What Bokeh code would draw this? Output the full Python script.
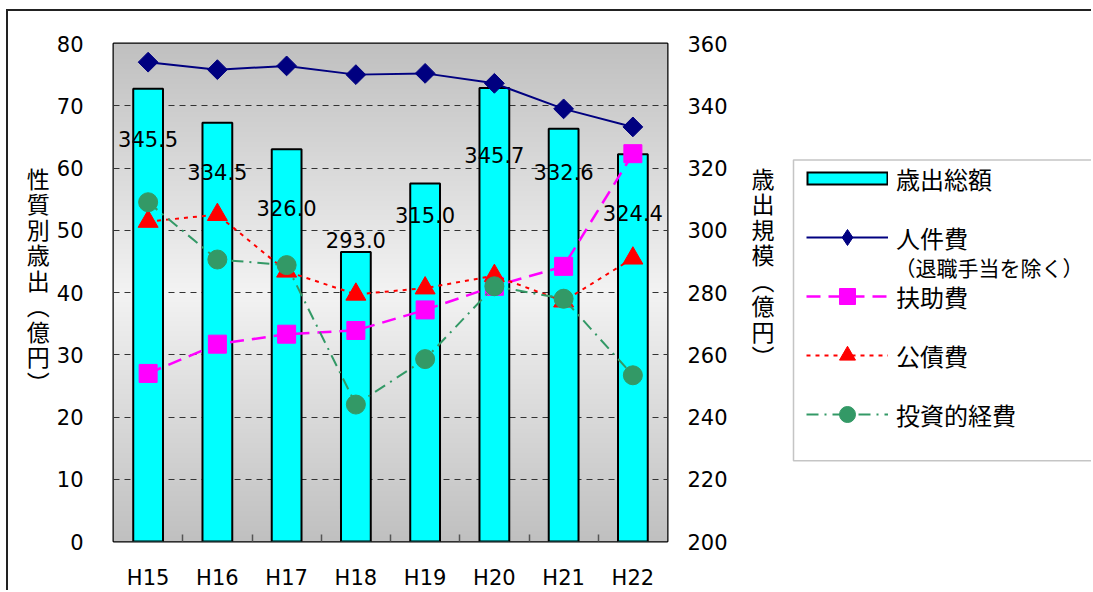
import numpy as np
from bokeh.plotting import figure
from bokeh.layouts import row
from bokeh.models import (Range1d, LinearAxis, FixedTicker, Legend, LegendItem, Label, BoxAnnotation)
from bokeh.embed import file_html
from bokeh.resources import INLINE
from bokeh.core.properties import value

FONT_JP = "Noto Sans CJK JP"
FONT_NUM = "DejaVu Sans"

# ---- data ----
years = ["H15", "H16", "H17", "H18", "H19", "H20", "H21", "H22"]
total_spending = [345.5, 334.5, 326.0, 293.0, 315.0, 345.7, 332.6, 324.4]   # 歳出総額 (right axis)
personnel = [77.0, 75.8, 76.4, 75.0, 75.2, 73.6, 69.5, 66.6]                # 人件費
assistance = [27.0, 31.7, 33.3, 33.9, 37.2, 41.0, 44.2, 62.3]               # 扶助費
debt_service = [51.4, 52.5, 43.4, 39.7, 40.7, 42.7, 38.6, 45.5]             # 公債費
investment = [54.5, 45.3, 44.4, 22.0, 29.3, 41.0, 39.0, 26.7]               # 投資的経費
left_ticks = [0, 10, 20, 30, 40, 50, 60, 70, 80]
right_ticks = [200, 220, 240, 260, 280, 300, 320, 340, 360]
legend_labels = ["歳出総額", "人件費", "扶助費", "公債費", "投資的経費"]
legend_note = "（退職手当を除く）"

# style: pixel shift of each bar's value label (as placed in the original)
label_shift = [50, 49, 59, -12, 31, 67, 43, 59]

# ---- styles ----
BAR = dict(fill_color="#00ffff", line_color="black", line_width=2)
S1_LINE = dict(line_color="#000080", line_width=2)
S1_MARK = dict(marker="square", angle=np.pi / 4, size=14, fill_color="#000080", line_color="#000080")
S1_LEG_MARK = dict(marker="diamond", size=20, fill_color="#000080", line_color="#000080")
S2_LINE = dict(line_color="#ff00ff", line_width=2.5, line_dash="14 8")
S2_MARK = dict(marker="square", size=18, fill_color="#ff00ff", line_color="#ff00ff")
S3_LINE = dict(line_color="#ff0000", line_width=2, line_dash="4 5")
S3_MARK = dict(marker="triangle", size=20, fill_color="#ff0000", line_color="#ff0000")
S4_LINE = dict(line_color="#339966", line_width=2, line_dash="12 6 2 6")
S4_MARK = dict(marker="circle", size=19, fill_color="#339966", line_color="#339966")
FRAME_BORDER = "2px solid #222222"

x = list(range(len(years)))

MAIN_W, H = 782, 581
p = figure(width=MAIN_W, height=H, output_backend="svg", toolbar_location=None,
           x_range=Range1d(-0.5, len(years) - 0.5),
           y_range=Range1d(left_ticks[0], left_ticks[-1]),
           min_border_left=105, min_border_right=123, min_border_top=32, min_border_bottom=49,
           background_fill_color="white", border_fill_color="white")
p.styles = {"border-top": FRAME_BORDER, "border-left": FRAME_BORDER,
            "margin-top": "9px", "margin-left": "6px"}
p.extra_y_ranges = {"r": Range1d(right_ticks[0], right_ticks[-1])}

# gradient plot background (grey - light - grey)
n = 400
t = np.linspace(0.0, 1.0, n)
g = (192 + (243 - 192) * (1 - np.abs(2 * t - 1))).astype(np.uint8)
img = np.empty((n, 2), dtype=np.uint32)
view = img.view(dtype=np.uint8).reshape((n, 2, 4))
for k in range(3):
    view[:, :, k] = g[:, None]
view[:, :, 3] = 255
xr, yr = p.x_range, p.y_range
p.image_rgba(image=[img], x=xr.start, y=yr.start, dw=xr.end - xr.start,
             dh=yr.end - yr.start, level="image")

p.outline_line_color = "black"
p.outline_line_width = 2
p.xgrid.visible = False
p.ygrid.grid_line_color = "#333333"
p.ygrid.grid_line_dash = "6 5"
p.ygrid.grid_line_width = 1

# bars + value labels
p.vbar(x=x, top=total_spending, bottom=right_ticks[0], width=0.43, y_range_name="r", **BAR)
p.text(x=x, y=total_spending, text=[f"{v:.1f}" for v in total_spending], y_range_name="r",
       y_offset=label_shift, text_align="center", text_baseline="middle",
       text_font=value(FONT_NUM), text_font_size="21px", text_color="black")

# lines
p.line(x, personnel, **S1_LINE)
p.scatter(x, personnel, **S1_MARK)
p.line(x, assistance, **S2_LINE)
p.scatter(x, assistance, **S2_MARK)
p.line(x, debt_service, **S3_LINE)
p.scatter(x, debt_service, **S3_MARK)
p.line(x, investment, **S4_LINE)
p.scatter(x, investment, **S4_MARK)

# axes
ax = p.xaxis[0]
ax.ticker = FixedTicker(ticks=x, minor_ticks=[i + 0.5 for i in x[:-1]])
ax.major_label_overrides = {i: s for i, s in zip(x, years)}
ax.axis_line_color = None
ax.major_tick_line_color = None
ax.major_tick_out = 0
ax.major_tick_in = 0
ax.minor_tick_in = 7
ax.minor_tick_out = 0
ax.minor_tick_line_color = "#555555"
ax.minor_tick_line_width = 1.5
ax.major_label_standoff = 24
ax.major_label_text_font = FONT_NUM
ax.major_label_text_font_size = "21px"
ax.major_label_text_color = "black"

ly = p.yaxis[0]
ly.ticker = FixedTicker(ticks=left_ticks)
ly.axis_line_color = None
ly.major_tick_line_color = None
ly.major_tick_out = 0
ly.major_tick_in = 0
ly.minor_tick_line_color = None
ly.minor_tick_out = 0
ly.major_label_standoff = 30
ly.major_label_text_font = FONT_NUM
ly.major_label_text_font_size = "21px"
ly.major_label_text_color = "black"
ly.axis_label = "性\n質\n別\n歳\n出\n︵\n億\n円\n︶\n　"
ly.axis_label_orientation = "horizontal"
ly.axis_label_standoff = 4
ly.axis_label_text_font = FONT_JP
ly.axis_label_text_font_size = "23px"
ly.axis_label_text_font_style = "normal"
ly.axis_label_text_line_height = 0.75
ly.axis_label_text_color = "black"
p.ygrid.ticker = ly.ticker

ry = LinearAxis(y_range_name="r", ticker=FixedTicker(ticks=right_ticks))
ry.axis_line_color = None
ry.major_tick_line_color = None
ry.major_tick_out = 0
ry.major_tick_in = 0
ry.minor_tick_line_color = None
ry.minor_tick_out = 0
ry.major_label_standoff = 20
ry.major_label_text_font = FONT_NUM
ry.major_label_text_font_size = "21px"
ry.major_label_text_color = "black"
ry.axis_label = "歳\n出\n規\n模\n︵\n億\n円\n︶\n　\n　"
ry.axis_label_orientation = "horizontal"
ry.axis_label_standoff = 21
ry.axis_label_text_font = FONT_JP
ry.axis_label_text_font_size = "23px"
ry.axis_label_text_font_style = "normal"
ry.axis_label_text_line_height = 0.75
ry.axis_label_text_color = "black"
p.add_layout(ry, "right")

# ---- legend panel (its frame is aligned with the main frame: 500 px tall) ----
LEG_W = 1093 - 6 - 2 - MAIN_W
FRAME_H = H - 32 - 49
lf = figure(width=LEG_W, height=H, output_backend="svg", toolbar_location=None,
            x_range=Range1d(0, LEG_W), y_range=Range1d(0, FRAME_H),
            x_axis_type=None, y_axis_type=None,
            min_border_left=0, min_border_right=0, min_border_top=32, min_border_bottom=49,
            background_fill_color="white", border_fill_color="white", outline_line_color=None)
lf.styles = {"border-top": FRAME_BORDER, "margin-top": "9px"}

lf.add_layout(BoxAnnotation(left=5, right=LEG_W + 20, top=383, bottom=81,
                            fill_color="white", fill_alpha=1.0,
                            line_color="#404040", line_width=1.5))

nan = [float("nan")]
e_edge = lf.line(x=nan, y=nan, line_color="black", line_width=14)
e_face = lf.line(x=nan, y=nan, line_color="#00ffff", line_width=10, line_dash="0 2 78 200")
r1 = [lf.line(x=nan, y=nan, **S1_LINE), lf.scatter(x=nan, y=nan, **S1_LEG_MARK)]
r2 = [lf.line(x=nan, y=nan, **S2_LINE), lf.scatter(x=nan, y=nan, **S2_MARK)]
r3 = [lf.line(x=nan, y=nan, **S3_LINE), lf.scatter(x=nan, y=nan, **S3_MARK)]
r4 = [lf.line(x=nan, y=nan, **S4_LINE), lf.scatter(x=nan, y=nan, **S4_MARK)]

legend = Legend(items=[
    LegendItem(label=legend_labels[0], renderers=[e_edge, e_face]),
    LegendItem(label=legend_labels[1], renderers=r1),
    LegendItem(label=legend_labels[2], renderers=r2),
    LegendItem(label=legend_labels[3], renderers=r3),
    LegendItem(label=legend_labels[4], renderers=r4),
], location=(18, 107), orientation="vertical",
    glyph_width=82, glyph_height=40, label_height=40, spacing=19,
    padding=0, margin=0, label_standoff=8,
    border_line_color=None, background_fill_alpha=0.0,
    label_text_font=FONT_JP, label_text_font_size="24px", label_text_color="black")
lf.add_layout(legend, "center")

lf.add_layout(Label(x=106, y=276, text=legend_note,
                    text_font=FONT_JP, text_font_size="21px", text_baseline="middle",
                    text_align="left", text_color="black"))

layout = row(p, lf, spacing=0)
open("out.html", "w").write(file_html(layout, INLINE))
